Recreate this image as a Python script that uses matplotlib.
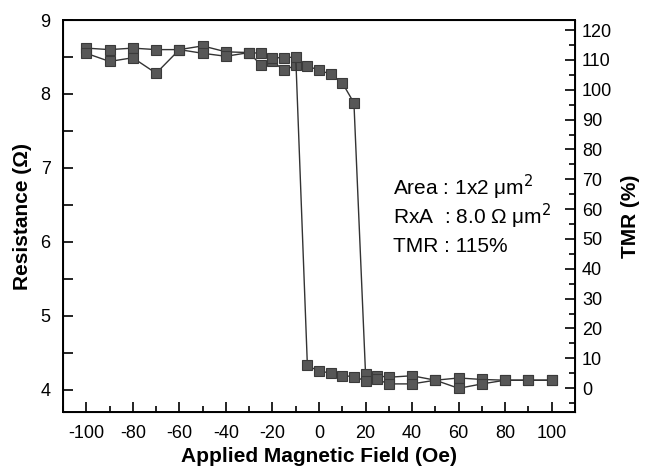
import matplotlib.pyplot as plt
from matplotlib.ticker import MultipleLocator

plt.rcParams['font.family'] = ['Liberation Sans', 'DejaVu Sans']
plt.rcParams['axes.unicode_minus'] = False

# sweep from negative to positive field
field_up = [-100, -90, -80, -70, -60, -50, -40, -30, -25, -20, -15, -10, -5,
            0, 5, 10, 15, 20, 25, 30, 40, 50, 60, 70, 80, 90, 100]
res_up = [8.62, 8.60, 8.62, 8.60, 8.60, 8.65, 8.57, 8.56, 8.39, 8.44, 8.32, 8.39, 8.38,
          8.32, 8.27, 8.15, 7.88, 4.21, 4.19, 4.17, 4.19, 4.13, 4.16, 4.14, 4.13, 4.13, 4.13]

# sweep from positive to negative field
field_down = [100, 90, 80, 70, 60, 50, 40, 30, 25, 20, 15, 10, 5, 0, -5,
              -10, -15, -20, -25, -30, -40, -50, -60, -70, -80, -90, -100]
res_down = [4.13, 4.13, 4.13, 4.08, 4.02, 4.13, 4.08, 4.08, 4.14, 4.12, 4.18, 4.19, 4.23, 4.25, 4.33,
            8.50, 8.49, 8.49, 8.55, 8.56, 8.51, 8.55, 8.60, 8.28, 8.49, 8.44, 8.55]

info_lines = ["Area : 1x2 \u03bcm$^2$", "RxA  : 8.0 \u03a9 \u03bcm$^2$", "TMR : 115%"]

fig = plt.figure(figsize=(6.45, 4.7), dpi=100)
ax = fig.add_axes([0.0977, 0.1234, 0.7938, 0.834])

for h, r in [(field_up, res_up), (field_down, res_down)]:
    ax.plot(h, r, color='#333333', lw=1.0, marker='s', ms=7.8,
            mfc='#575757', mec='#3a3a3a', mew=0.8)

ax.set_xlim(-110, 110)
ax.set_ylim(3.7, 9.0)
ax.xaxis.set_major_locator(MultipleLocator(20))
ax.xaxis.set_minor_locator(MultipleLocator(10))
ax.yaxis.set_major_locator(MultipleLocator(1))
ax.yaxis.set_minor_locator(MultipleLocator(0.5))
ax.tick_params(which='both', direction='in', labelsize=13, width=1.2,
               top=False, right=False)
ax.tick_params(axis='y', which='both', length=7, pad=9)
ax.tick_params(axis='x', which='major', length=7, pad=9)
ax.tick_params(axis='x', which='minor', length=4)
for s in ax.spines.values():
    s.set_linewidth(1.4)

ax.set_xlabel("Applied Magnetic Field (Oe)", fontsize=15, fontweight='bold', labelpad=4)
ax.set_ylabel("Resistance (\u03a9)", fontsize=15, fontweight='bold', labelpad=6)

ax2 = ax.twinx()
ax2.set_ylim(-8, 123.4)
ax2.yaxis.set_major_locator(MultipleLocator(10))
ax2.yaxis.set_minor_locator(MultipleLocator(5))
ax2.tick_params(which='both', direction='in', labelsize=13, width=1.2, pad=5)
ax2.tick_params(which='major', length=7)
ax2.tick_params(which='minor', length=4)
ax2.set_ylabel("TMR (%)", fontsize=15, fontweight='bold', labelpad=6)

for i, t in enumerate(info_lines):
    ax.text(32, 6.74 - i * 0.40, t, fontsize=15, va='center', ha='left')

fig.savefig("out.png", dpi=100)
